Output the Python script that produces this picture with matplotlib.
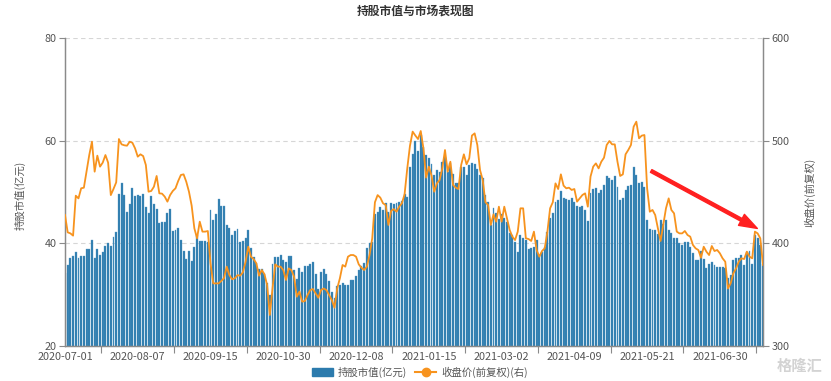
import matplotlib
matplotlib.use("Agg")
import matplotlib.pyplot as plt
import numpy as np
from matplotlib.ticker import FixedLocator
from matplotlib.lines import Line2D
from matplotlib.patches import Patch

plt.rcParams['font.family'] = ['Noto Sans CJK SC', 'DejaVu Sans']

tick_labels = ["2020-07-01", "2020-08-07", "2020-09-15", "2020-10-30", "2020-12-08",
               "2021-01-15", "2021-03-02", "2021-04-09", "2021-05-21", "2021-06-30"]

holding_value = [
    34.2, 35.7, 37.1, 37.5, 38.4, 37.2, 37.5, 37.5, 38.8, 38.8, 40.6, 37.1, 38.9, 37.7, 38.4, 39.4, 40.0, 39.4, 41.3, 42.3,
    49.6, 51.7, 49.4, 46.2, 47.6, 50.7, 49.2, 49.4, 49.2, 49.7, 47.0, 46.0, 49.2, 47.6, 46.6, 43.9, 44.2, 44.2, 46.0, 46.6,
    42.4, 42.5, 42.9, 40.7, 38.6, 37.0, 38.5, 36.6, 39.2, 41.6, 40.5, 40.5, 40.5, 40.3, 46.4, 44.5, 45.7, 48.6, 47.3, 47.3,
    43.6, 42.9, 41.6, 42.4, 42.7, 40.2, 40.5, 41.0, 42.6, 39.0, 37.4, 36.2, 35.0, 35.0, 34.0, 32.2, 30.0, 36.0, 37.3, 37.3,
    37.7, 36.8, 36.4, 37.6, 37.6, 34.8, 33.0, 35.1, 34.4, 35.5, 35.5, 36.0, 36.4, 34.0, 31.1, 34.4, 35.0, 34.0, 32.7, 30.6,
    29.4, 31.6, 31.9, 32.2, 31.8, 31.9, 32.8, 32.8, 33.7, 34.8, 35.5, 36.1, 39.0, 40.0, 40.3, 45.7, 46.2, 47.1, 46.4, 47.8,
    46.2, 47.9, 47.6, 47.9, 48.1, 48.3, 49.7, 49.1, 54.9, 57.5, 59.9, 58.0, 61.2, 58.8, 57.2, 56.7, 55.4, 53.3, 54.3, 53.8,
    55.9, 56.9, 53.8, 55.6, 53.6, 51.7, 51.7, 54.9, 54.9, 53.4, 55.3, 55.6, 55.4, 54.4, 53.4, 52.7, 49.4, 48.0, 43.6, 46.8,
    45.9, 44.7, 45.7, 45.0, 44.2, 42.0, 41.6, 40.3, 38.4, 41.6, 41.0, 40.7, 38.9, 39.0, 39.2, 40.7, 37.7, 38.4, 39.2, 42.2,
    44.9, 45.9, 48.0, 48.4, 50.2, 48.8, 48.6, 48.4, 48.8, 48.0, 47.3, 47.1, 47.3, 46.5, 44.4, 49.9, 50.6, 50.8, 49.9, 50.4,
    51.4, 53.1, 52.7, 52.3, 53.2, 51.0, 48.4, 48.9, 50.4, 51.2, 51.4, 54.8, 53.4, 51.7, 52.0, 51.0, 44.6, 42.7, 42.6, 42.6,
    41.8, 44.6, 43.7, 44.6, 42.6, 42.0, 41.1, 41.0, 40.1, 39.7, 40.2, 40.3, 39.2, 38.1, 36.8, 36.8, 38.5, 37.0, 35.1, 35.9,
    36.4, 35.8, 35.3, 35.3, 35.4, 35.1, 33.2, 33.8, 36.8, 37.2, 37.1, 37.7, 35.8, 38.4, 38.5, 35.9, 41.6, 41.0, 39.6, 35.9,
]

close_price = [
    427.6, 410.7, 409.7, 407.5, 446.4, 443.8, 453.6, 454.2, 469.8, 486.0, 499.0, 469.8, 485.4, 474.7, 478.6, 486.0, 478.6, 447.0, 453.0, 459.4,
    501.6, 496.4, 495.5, 495.1, 499.0, 498.0, 492.5, 484.4, 486.7, 485.0, 476.3, 450.3, 451.0, 455.2, 465.6, 448.7, 448.4, 445.5, 440.6, 447.0,
    451.0, 453.6, 460.7, 466.6, 467.2, 460.0, 450.3, 436.7, 414.6, 404.9, 421.1, 411.4, 411.4, 412.0, 380.5, 361.0, 361.0, 361.0, 363.3, 366.0,
    377.3, 369.0, 365.0, 365.9, 369.0, 368.5, 371.7, 382.0, 396.7, 387.0, 384.7, 380.5, 368.5, 374.0, 370.0, 359.4, 330.2, 356.0, 379.5, 377.3,
    377.3, 374.0, 364.3, 375.6, 374.0, 367.5, 348.0, 353.0, 343.2, 343.8, 349.7, 354.5, 355.5, 351.3, 347.0, 354.5, 356.0, 354.5, 349.7, 344.8,
    337.3, 356.0, 366.0, 378.9, 377.3, 387.0, 388.6, 388.6, 387.0, 379.5, 376.3, 374.0, 377.3, 388.6, 404.9, 440.0, 447.0, 444.5, 439.0, 437.3,
    417.9, 431.5, 433.4, 430.8, 435.7, 439.0, 447.7, 473.0, 495.0, 508.8, 505.0, 501.6, 509.4, 492.5, 464.0, 474.7, 466.0, 450.3, 458.4, 461.7,
    473.0, 490.9, 469.8, 479.5, 456.8, 454.2, 452.9, 476.3, 486.7, 477.0, 482.8, 505.0, 507.1, 495.8, 471.4, 461.7, 440.0, 437.3, 417.9, 428.2,
    421.1, 435.7, 421.1, 435.7, 424.3, 413.0, 406.5, 403.2, 411.4, 434.1, 434.1, 404.9, 404.2, 402.3, 411.4, 393.5, 387.0, 392.5, 395.1, 411.4,
    434.1, 440.0, 458.4, 452.9, 467.2, 456.2, 453.6, 454.2, 452.0, 452.9, 440.6, 443.8, 447.1, 448.7, 435.7, 465.0, 474.7, 477.9, 473.0, 479.5,
    483.4, 495.8, 499.7, 496.4, 496.4, 479.5, 465.6, 467.2, 486.7, 490.9, 495.8, 513.6, 518.5, 502.3, 504.9, 505.5, 453.6, 430.8, 432.5, 427.6,
    414.6, 402.3, 417.9, 434.1, 443.8, 432.5, 429.2, 411.4, 409.7, 409.7, 412.0, 408.1, 406.5, 398.4, 395.1, 393.5, 386.0, 396.7, 391.9, 388.6,
    397.4, 392.5, 393.5, 390.3, 385.4, 382.1, 356.0, 361.0, 370.8, 375.6, 382.1, 385.4, 384.7, 391.9, 387.0, 385.4, 411.4, 409.7, 404.9, 378.9,
]

label_step = 27
n = len(holding_value)
x = np.arange(n)

BAR_C = '#2c7bad'
LINE_C = '#f7931e'
AX_C = '#8a8a8a'
TXT_C = '#555555'

fig = plt.figure(figsize=(8.31, 3.81), dpi=100)
ax = fig.add_axes([65/831, 1-346/381, (763-65)/831, (346-38)/381])
ax2 = ax.twinx()

ax.bar(x, holding_value, width=0.72, color=BAR_C, edgecolor='#5a9cc6', linewidth=0.25, zorder=2)
ax2.plot(x, close_price, color=LINE_C, linewidth=1.3, zorder=3)

ax.set_xlim(0, n - 1)
ax.set_ylim(20, 80)
ax2.set_ylim(300, 600)

ax.set_yticks([20, 40, 60, 80])
ax2.set_yticks([300, 400, 500, 600])
for yv in [40, 60, 80]:
    ax.axhline(yv, color='#d6d6d6', linestyle=(0, (4, 3)), linewidth=0.8, zorder=1)

major = [i * label_step for i in range(len(tick_labels))]
ax.xaxis.set_major_locator(FixedLocator(major))
ax.set_xticklabels(tick_labels)
minor = [label_step / 2 + i * label_step for i in range(len(tick_labels))]
ax.xaxis.set_minor_locator(FixedLocator(minor))
ax.tick_params(axis='x', which='major', length=0, pad=4, labelsize=7.8, labelcolor=TXT_C)
ax.tick_params(axis='x', which='minor', length=5, color=AX_C, width=0.8)
ax.tick_params(axis='y', length=4, color=AX_C, width=0.8, labelsize=7.8, labelcolor=TXT_C, pad=2)
ax2.tick_params(axis='y', length=4, color=AX_C, width=0.8, labelsize=7.8, labelcolor=TXT_C, pad=2)

for a in (ax, ax2):
    a.spines['top'].set_visible(False)
    for s in ('left', 'right', 'bottom'):
        a.spines[s].set_color(AX_C)
        a.spines[s].set_linewidth(0.9)
ax.set_zorder(ax2.get_zorder() - 1)
ax.patch.set_visible(False)

fig.text(20/831, 1-195/381, '持股市值(亿元)', rotation=90, ha='center', va='center', fontsize=7.5, color=TXT_C)
fig.text(810/831, 1-192/381, '收盘价(前复权)', rotation=90, ha='center', va='center', fontsize=7.5, color=TXT_C)
fig.text(415/831, 1-11/381, '持股市值与市场表现图', ha='center', va='center', fontsize=8.5, fontweight='bold', color='#333333')

handles = [Patch(facecolor=BAR_C, edgecolor=BAR_C),
           Line2D([0], [0], color=LINE_C, marker='o', markersize=6, linewidth=1.5)]
fig.legend(handles, ['持股市值(亿元)', '收盘价(前复权)(右)'], loc='center', bbox_to_anchor=(420/831, 1-372/381),
           ncol=2, frameon=False, fontsize=7.5, handlelength=2.0, handleheight=0.9, columnspacing=0.8,
           handletextpad=0.5, labelcolor=TXT_C)

ax.annotate('', xy=(256.9, 42.9), xytext=(217.5, 54.1),
            arrowprops=dict(arrowstyle='simple,head_width=0.9,head_length=1.3,tail_width=0.22',
                            color='#ff2020', mutation_scale=10, shrinkA=0, shrinkB=0), zorder=5)

fig.text(800/831, 1-366/381, '格隆汇', ha='center', va='center', fontsize=11, color='#d3d3d3', fontweight='bold')

fig.savefig('out.png', dpi=100)
